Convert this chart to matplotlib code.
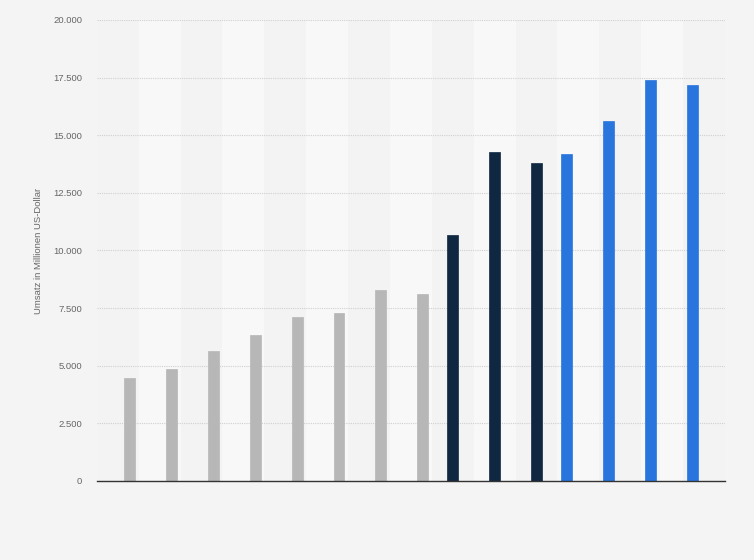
import matplotlib
matplotlib.use("Agg")
import matplotlib.pyplot as plt
import numpy as np
from matplotlib.ticker import FuncFormatter

# 15 Kategorien, drei Reihen (pro Kategorie ist nur eine Reihe belegt)
n_cat = 15
blue_vals = [None] * 11 + [14170, 15600, 17400, 17170]
navy_vals = [None] * 8 + [10660, 14260, 13780] + [None] * 4
gray_vals = [4480, 4850, 5630, 6350, 7100, 7270, 8270, 8100] + [None] * 7

series = [
    (blue_vals, "#2876dd", -1),
    (navy_vals, "#0f2741", 0),
    (gray_vals, "#b7b7b7", 1),
]

y_label = "Umsatz in Millionen US-Dollar"

plt.rcParams['font.family'] = ['Liberation Sans', 'DejaVu Sans']

fig = plt.figure(figsize=(7.54, 5.6), dpi=100)
fig.patch.set_facecolor("#f4f4f4")
ax = fig.add_axes([0.1283, 0.1411, 0.8332, 0.8232])
ax.set_facecolor("#f3f3f3")

x = np.arange(n_cat)
# abwechselnde Hintergrundstreifen
for i in x:
    if i % 2 == 1:
        ax.axvspan(i - 0.5, i + 0.5, color="#f8f8f8", zorder=0, lw=0)

bar_w = 0.26
offset = 0.285
for vals, color, pos in series:
    xs = [xi + pos * offset for xi, v in zip(x, vals) if v is not None]
    ys = [v for v in vals if v is not None]
    ax.bar(xs, ys, width=bar_w, color=color, zorder=3,
           edgecolor=color, linewidth=0.5)

ax.set_xlim(-0.5, n_cat - 0.5)
ax.set_ylim(0, 20000)
ax.set_yticks(np.arange(0, 20001, 2500))
ax.yaxis.set_major_formatter(FuncFormatter(lambda v, p: f"{int(v):,}".replace(",", ".")))
ax.set_xticks(x)
ax.set_xticklabels([""] * n_cat)
ax.tick_params(axis="x", length=0)
ax.tick_params(axis="y", length=0, labelsize=6.8, labelcolor="#666666", pad=10.5)

ax.grid(axis="y", color="#d0d0d0", linestyle=(0, (1, 1)), linewidth=0.8, zorder=1)
for side in ["top", "right", "left"]:
    ax.spines[side].set_visible(False)
ax.spines["bottom"].set_color("#333333")
ax.spines["bottom"].set_linewidth(1.0)
ax.spines["bottom"].set_zorder(4)

ax.set_ylabel(y_label, fontsize=6.8, color="#666666", labelpad=7)

fig.savefig("out.png", dpi=100, facecolor=fig.get_facecolor())
